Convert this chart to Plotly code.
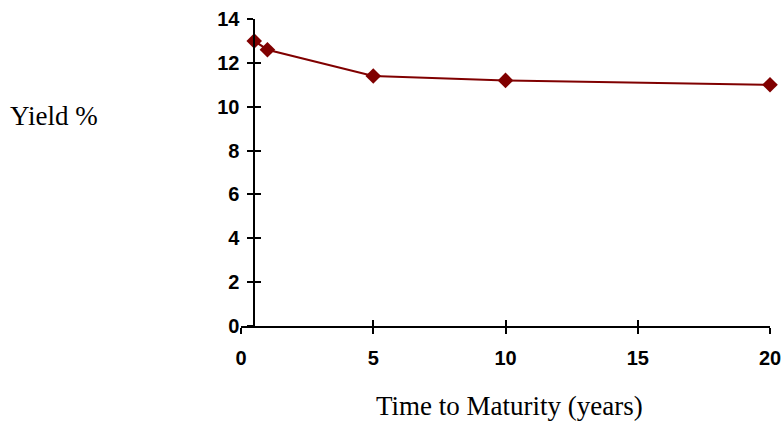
import plotly.graph_objects as go

maturity = [0.5, 1, 5, 10, 20]
yield_pct = [13.0, 12.6, 11.4, 11.2, 11.0]
x_ticks = [0, 5, 10, 15, 20]
y_ticks = [0, 2, 4, 6, 8, 10, 12, 14]

RED = "#800000"
tickfont = dict(family="Liberation Sans, Arial", size=20, color="black", weight="bold")

W, H = 781, 423
l, r, t, b = 241, 11, 19, 97
pw, ph = W - l - r, H - t - b

fig = go.Figure()
fig.add_trace(go.Scatter(
    x=maturity, y=yield_pct, mode="lines+markers",
    line=dict(color=RED, width=2),
    marker=dict(symbol="diamond", size=12, color=RED),
    showlegend=False, cliponaxis=False,
))
fig.add_trace(go.Scatter(x=[0], y=[0], xaxis="x2", yaxis="y2", mode="markers",
                         marker=dict(opacity=0), showlegend=False, hoverinfo="skip"))

ypos = 0.5 / 20

fig.update_layout(
    width=W, height=H,
    margin=dict(l=l, r=r, t=t, b=b, autoexpand=False),
    plot_bgcolor="white", paper_bgcolor="white",
    xaxis=dict(range=[0, 20], tickvals=x_ticks, ticks="outside", ticklen=6,
               tickwidth=1.5, tickcolor="black", showline=True, linecolor="black",
               linewidth=1.5, showgrid=False, zeroline=False, tickfont=tickfont,
               ticklabelstandoff=7, anchor="y", automargin=False,
               ticklabeloverflow="allow"),
    yaxis=dict(range=[0, 14], tickvals=y_ticks, ticks="outside", ticklen=6,
               tickwidth=1.5, tickcolor="black", showline=True, linecolor="black",
               linewidth=1.5, showgrid=False, zeroline=False, tickfont=tickfont,
               anchor="free", position=ypos, ticklabelstandoff=4, automargin=False,
               ticklabeloverflow="allow"),
    xaxis2=dict(range=[0, 20], tickvals=x_ticks, ticks="inside", ticklen=6,
                tickwidth=1.5, tickcolor="black", showticklabels=False,
                showgrid=False, zeroline=False, overlaying="x", anchor="y"),
    yaxis2=dict(range=[0, 14], tickvals=y_ticks, ticks="inside", ticklen=6,
                tickwidth=1.5, tickcolor="black", showticklabels=False,
                showgrid=False, zeroline=False, overlaying="y",
                anchor="free", position=ypos),
)

serif = dict(family="Liberation Serif, Times New Roman", size=27, color="black")
for text, px, py, xa in [("Yield %", 8, 116, "left"),
                         ("Time to Maturity (years)", 509, 406, "center")]:
    fig.add_annotation(text=text, x=(px - l) / pw, y=(H - b - py) / ph,
                       xref="paper", yref="paper", showarrow=False,
                       xanchor=xa, yanchor="middle", font=serif)

fig.write_html("out.html")
